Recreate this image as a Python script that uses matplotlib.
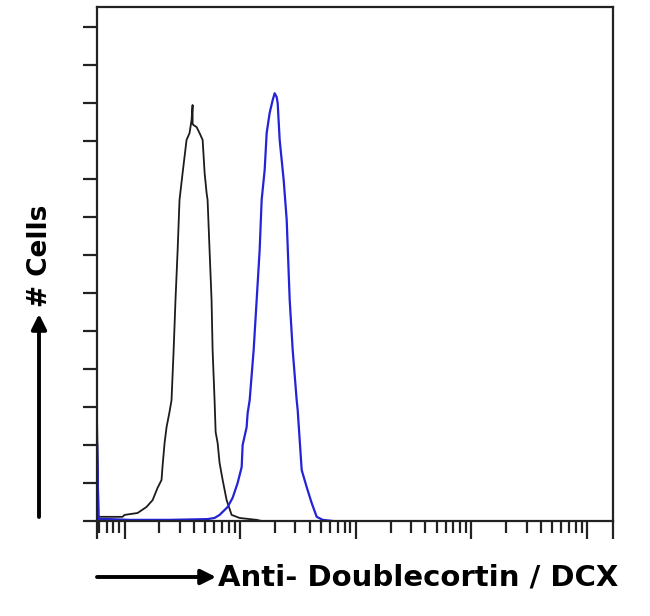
import numpy as np
import matplotlib
matplotlib.use("Agg")
import matplotlib.pyplot as plt
from matplotlib.ticker import FixedLocator, NullFormatter

# Control (isotype) histogram: fluorescence intensity vs cell count
black_x = [5.78, 5.78, 5.96, 9.61, 10.0, 11.05, 12.96, 15.5, 17.5, 19.3, 20.9, 21.3,
           22.2, 23.1, 24.5, 25.5, 26.6, 27.6, 28.8, 29.9, 31.8, 34.4, 36.5, 38.0,
           38.8, 38.8, 39.6, 42.0, 44.6, 47.4, 49.3, 51.3, 52.3, 54.4, 56.6, 57.8,
           60.1, 61.4, 63.9, 66.4, 70.6, 76.4, 84.4, 99.0, 139.0, 153.5]
black_y = [0.0, 27.9, 1.1, 1.1, 1.6, 1.8, 2.1, 3.7, 5.5, 8.7, 10.8, 14.2,
           20.5, 24.7, 28.7, 31.8, 45.0, 58.2, 71.3, 84.5, 91.6, 100.3, 102.1, 105.5,
           109.5, 104.5, 104.2, 103.7, 102.1, 100.3, 91.6, 86.3, 84.5, 71.3, 58.2, 45.0,
           31.8, 23.4, 20.5, 15.3, 10.8, 5.5, 1.6, 0.8, 0.3, 0.0]

# Anti-Doublecortin / DCX histogram
blue_x = [5.78, 5.78, 5.96, 7.41, 11.05, 24.5, 52.3, 60.1, 66.4, 78.0, 86.1, 95.1,
          103.1, 105.1, 113.8, 116.1, 120.9, 130.9, 139.0, 147.5, 153.5, 163.0, 169.6,
          180.0, 191.2, 198.9, 207.0, 211.2, 219.8, 238.1, 252.8, 268.3, 284.8, 308.4,
          314.6, 327.4, 340.8, 376.6, 416.0, 459.6, 518.1, 632.3]
blue_y = [0.0, 20.5, 0.5, 0.5, 0.3, 0.3, 0.5, 0.8, 1.6, 3.7, 6.1, 10.0,
          14.2, 20.0, 24.7, 28.4, 31.8, 45.0, 58.2, 71.3, 84.5, 92.4, 102.1,
          107.4, 110.8, 112.6, 111.6, 110.0, 100.3, 89.7, 79.2, 58.2, 45.0, 31.8,
          29.2, 21.3, 13.4, 8.9, 4.7, 1.1, 0.3, 0.0]

x_label = "Anti- Doublecortin / DCX"
y_label = "# Cells"

W, H = 650, 616
fig = plt.figure(figsize=(W / 100, H / 100), dpi=100)
ax = fig.add_axes([97 / W, 95 / H, 516 / W, 514 / H])

ax.plot(black_x, black_y, color="#1c1c1c", lw=1.3)
ax.plot(blue_x, blue_y, color="#2323d8", lw=1.6)

ax.set_xscale("log")
xmin, xmax = 10 ** 0.762, 10 ** 5.225
ax.set_xlim(xmin, xmax)
ax.set_ylim(0, 135.3)

major = [xmin] + [10.0 ** k for k in range(1, 6)] + [xmax]
minor = [m * 10.0 ** k for k in range(0, 6) for m in range(2, 10)
         if xmin * 1.02 < m * 10.0 ** k < xmax]
ax.xaxis.set_major_locator(FixedLocator(major))
ax.xaxis.set_minor_locator(FixedLocator(minor))
ax.xaxis.set_major_formatter(NullFormatter())
ax.xaxis.set_minor_formatter(NullFormatter())
ax.yaxis.set_major_locator(FixedLocator(np.arange(0, 131, 10)))
ax.yaxis.set_minor_locator(FixedLocator([]))
ax.yaxis.set_major_formatter(NullFormatter())

ax.tick_params(axis="x", which="major", direction="out", length=13, width=1.6, color="#222222")
ax.tick_params(axis="x", which="minor", direction="out", length=8.5, width=1.6, color="#222222")
ax.tick_params(axis="y", which="major", direction="out", length=10, width=1.6, color="#222222")
for s in ax.spines.values():
    s.set_linewidth(1.6)
    s.set_color("#222222")

font = ["DejaVu Sans"]
# x label with arrow
fig.text(218 / W, 1 - 578 / H, x_label, ha="left", va="center", fontsize=21,
         fontweight="bold", family=font)
ax.annotate("", xy=(216 / W, 1 - 577 / H), xytext=(97 / W, 1 - 577 / H),
            xycoords="figure fraction", textcoords="figure fraction",
            arrowprops=dict(arrowstyle="-|>,head_length=0.9,head_width=0.45",
                            color="black", lw=2.8, shrinkA=0, shrinkB=0))
# y label with arrow
fig.text(40 / W, 1 - 256 / H, y_label, ha="center", va="center", fontsize=19,
         fontweight="bold", rotation=90, family=font)
ax.annotate("", xy=(39 / W, 1 - 314 / H), xytext=(39 / W, 1 - 517 / H),
            xycoords="figure fraction", textcoords="figure fraction",
            arrowprops=dict(arrowstyle="-|>,head_length=0.9,head_width=0.45",
                            color="black", lw=2.8, shrinkA=0, shrinkB=0))

fig.savefig("out.png", dpi=100)
